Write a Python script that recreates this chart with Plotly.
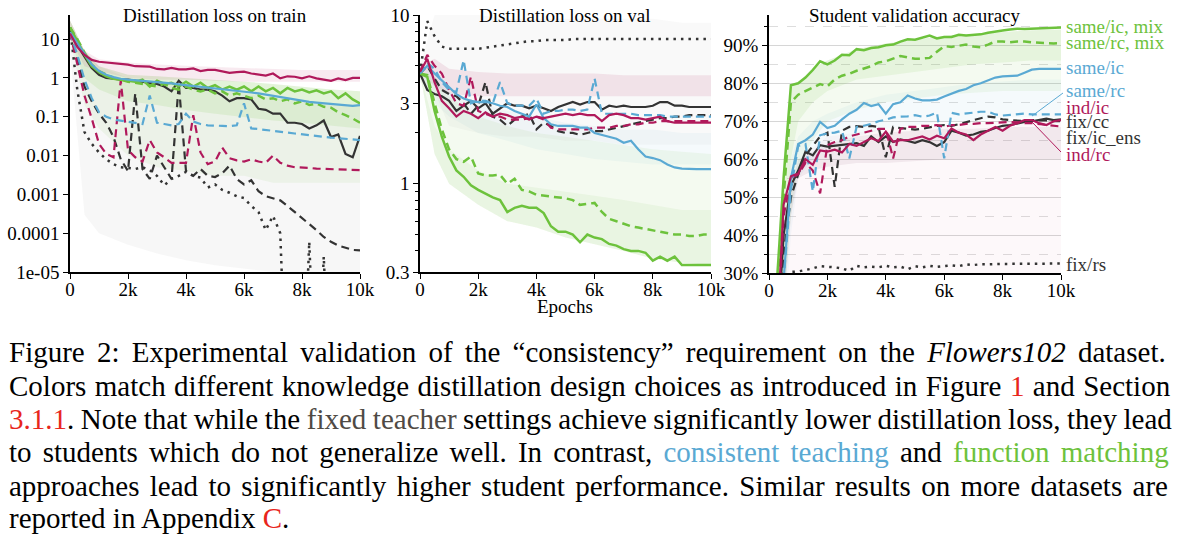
import plotly.graph_objects as go

W, H = 1181, 539

# ---------------- data ----------------
EPOCHS = [i * 250 for i in range(41)]
X_TICKS = [0, 2000, 4000, 6000, 8000, 10000]
X_TICKTEXT = ["0", "2k", "4k", "6k", "8k", "10k"]

# Panel 1: distillation loss on train
TRAIN_SAME_IC_MIX = [20, 9, 4, 2, 1.4, 1.1, 0.95, 0.9, 0.85, 0.8, 0.9, 0.6, 0.85, 0.7, 0.75, 0.6, 0.8, 0.6, 0.75, 0.55,
                     0.65, 0.5, 0.6, 0.5, 0.6, 0.45, 0.6, 0.45, 0.55, 0.4, 0.55, 0.45, 0.5, 0.42, 0.48, 0.4, 0.45, 0.3, 0.4, 0.28, 0.22]
TRAIN_SAME_RC_MIX = [20, 10, 4.5, 2.2, 1.5, 1.2, 1.0, 0.9, 0.8, 0.75, 0.7, 0.65, 0.6, 0.7, 0.55, 0.5, 0.6, 0.5, 0.45, 0.5,
                     0.4, 0.45, 0.35, 0.4, 0.35, 0.3, 0.35, 0.28, 0.3, 0.25, 0.28, 0.22, 0.25, 0.2, 0.22, 0.18, 0.17, 0.13, 0.11, 0.09, 0.07]
TRAIN_SAME_IC = [15, 8, 4, 2.2, 1.5, 1.2, 1.05, 0.95, 0.9, 0.87, 0.85, 0.82, 0.78, 0.75, 0.72, 0.68, 0.65, 0.62, 0.6, 0.57,
                 0.55, 0.52, 0.5, 0.47, 0.44, 0.42, 0.4, 0.37, 0.34, 0.32, 0.3, 0.27, 0.25, 0.24, 0.23, 0.22, 0.22, 0.21, 0.2, 0.19, 0.2]
TRAIN_SAME_RC = [15, 4, 0.9, 0.3, 0.13, 0.1, 0.085, 0.08, 0.075, 0.07, 0.065, 0.35, 0.07, 0.065, 0.06, 0.065, 0.12, 0.075, 0.065, 0.06,
                 0.06, 0.058, 0.057, 0.06, 0.22, 0.05, 0.048, 0.046, 0.043, 0.041, 0.039, 0.037, 0.035, 0.034, 0.032, 0.03, 0.029, 0.028, 0.027, 0.026, 0.025]
TRAIN_IND_IC = [14, 6.3, 3.9, 2.9, 2.6, 2.5, 2.45, 2.35, 2.2, 2.0, 1.95, 1.95, 1.7, 1.65, 1.8, 1.65, 1.65, 1.75, 1.5, 1.6,
                1.6, 1.45, 1.35, 1.4, 1.45, 1.3, 1.25, 1.15, 1.3, 0.97, 1.1, 1.07, 0.97, 1.1, 0.97, 0.9, 0.84, 0.97, 0.88, 1.0, 1.0]
TRAIN_IND_RC = [15, 2.5, 0.35, 0.09, 0.02, 0.011, 0.009, 0.85, 0.014, 0.009, 0.007, 0.025, 0.012, 0.009, 0.0065, 0.0065, 0.0065, 0.11, 0.012, 0.006,
                0.007, 0.016, 0.0085, 0.0075, 0.007, 0.008, 0.007, 0.0065, 0.01, 0.0065, 0.0055, 0.005, 0.005, 0.0048, 0.0046, 0.0045, 0.0046, 0.0044, 0.0043, 0.0042, 0.0042]
TRAIN_FIX_CC = [18, 7, 3.5, 1.8, 1.2, 1.0, 0.95, 0.9, 0.9, 0.85, 0.8, 0.75, 0.7, 0.6, 0.45, 0.85, 0.55, 0.55, 0.5, 0.5,
                0.45, 0.35, 0.25, 0.3, 0.3, 0.28, 0.16, 0.15, 0.12, 0.12, 0.07, 0.07, 0.065, 0.05, 0.06, 0.08, 0.03, 0.035, 0.011, 0.009, 0.032]
TRAIN_FIX_IC_ENS = [15, 3, 0.6, 0.25, 0.12, 0.07, 0.03, 0.008, 0.004, 0.4, 0.0045, 0.0025, 0.01, 0.005, 0.0025, 0.7, 0.004, 0.003, 0.0045, 0.003,
                    0.0028, 0.0035, 0.0055, 0.0025, 0.0018, 0.0023, 0.0012, 0.0009, 0.0008, 0.0007, 0.0005, 0.00035, 0.00025, 0.00017, 0.00012, 8e-5, 6e-5, 4.8e-5, 4.2e-5, 3.7e-5, 3.6e-5]
TRAIN_FIX_RS = [20, 0.5, 0.04, 0.02, 0.012, 0.008, 0.006, 0.005, 0.0048, 0.0045, 0.005, 0.0042, 0.003, 0.0017, 0.0025, 0.003, 0.0038, 0.003, 0.0027, 0.0015,
                0.0018, 0.0013, 0.0011, 0.0009, 0.0008, 0.0005, 0.00035, 0.00012, 0.00028, 0.0001, 1e-9, 1e-9, 1e-9, 6e-5, 1e-9, 2.5e-5, 1e-9, 1e-9, 1e-9, 1e-9, 1e-9]

# Panel 2: distillation loss on val
VAL_SAME_IC_MIX = [4.5, 4.3, 2.7, 1.9, 1.45, 1.2, 1.1, 0.98, 0.92, 0.87, 0.83, 0.8, 0.68, 0.72, 0.74, 0.72, 0.72, 0.67, 0.56, 0.52,
                   0.52, 0.5, 0.45, 0.5, 0.48, 0.47, 0.44, 0.43, 0.41, 0.4, 0.4, 0.39, 0.35, 0.37, 0.35, 0.37, 0.33, 0.33, 0.33, 0.33, 0.33]
VAL_SAME_RC_MIX = [4.5, 4.4, 3.0, 2.1, 1.6, 1.4, 1.35, 1.45, 1.15, 1.12, 1.12, 1.13, 1.0, 1.07, 0.92, 0.9, 0.86, 0.85, 0.84, 0.83,
                   0.82, 0.8, 0.75, 0.76, 0.77, 0.68, 0.62, 0.6, 0.58, 0.56, 0.55, 0.54, 0.53, 0.52, 0.51, 0.5, 0.5, 0.49, 0.49, 0.5, 0.5]
VAL_SAME_IC = [4.5, 5.0, 4.5, 4.1, 3.7, 3.4, 3.2, 3.1, 3.05, 3.05, 3.0, 2.9, 2.85, 2.7, 2.6, 2.5, 2.95, 2.45, 2.25, 2.2,
               2.2, 2.2, 2.15, 2.15, 2.0, 1.95, 1.9, 1.85, 1.75, 1.8, 1.6, 1.45, 1.42, 1.38, 1.3, 1.25, 1.23, 1.22, 1.22, 1.22, 1.22]
VAL_SAME_RC = [4.5, 5.2, 4.8, 4.0, 3.6, 3.5, 5.4, 3.0, 3.1, 3.1, 3.0, 4.0, 3.0, 2.9, 2.9, 2.9, 3.2, 2.6, 2.7, 2.7,
               2.75, 2.75, 2.7, 2.75, 4.2, 2.6, 2.6, 2.6, 2.6, 2.6, 2.55, 2.55, 2.55, 2.55, 2.5, 2.5, 2.5, 2.5, 2.5, 2.5, 2.5]
VAL_IND_IC = [4.6, 5.5, 4.0, 3.1, 2.8, 2.5, 2.7, 2.6, 2.45, 2.65, 2.5, 2.6, 2.55, 2.45, 2.5, 2.4, 2.5, 2.45, 2.5, 2.55,
              2.6, 2.55, 2.6, 2.55, 2.55, 2.35, 2.55, 2.6, 2.55, 2.45, 2.45, 2.4, 2.45, 2.5, 2.35, 2.3, 2.3, 2.3, 2.3, 2.3, 2.3]
VAL_IND_RC = [4.6, 5.8, 5.0, 4.5, 3.6, 3.0, 2.9, 4.3, 2.7, 2.6, 2.5, 2.5, 2.4, 2.4, 2.4, 2.45, 2.5, 2.4, 2.15, 2.1,
              2.1, 2.1, 2.1, 2.1, 2.15, 2.15, 2.15, 2.2, 2.2, 2.25, 2.25, 2.3, 2.3, 2.35, 2.35, 2.35, 2.35, 2.35, 2.35, 2.35, 2.35]
VAL_FIX_CC = [4.5, 3.6, 3.4, 3.3, 3.1, 2.7, 2.9, 3.1, 2.8, 3.0, 2.6, 2.8, 3.0, 2.9, 2.9, 2.8, 2.9, 2.8, 2.7, 2.85,
              2.95, 3.05, 2.95, 3.05, 3.05, 2.75, 2.9, 2.85, 2.9, 2.85, 2.85, 2.85, 2.9, 3.05, 3.05, 2.9, 2.9, 2.85, 2.85, 2.85, 2.85]
VAL_FIX_IC_ENS = [4.5, 5.0, 4.2, 3.6, 3.4, 3.3, 3.0, 2.6, 2.9, 4.0, 2.5, 2.4, 2.2, 2.4, 2.5, 2.6, 2.1, 2.3, 2.2, 2.05,
                  2.0, 2.0, 1.95, 2.0, 2.05, 2.05, 2.1, 2.15, 2.2, 2.25, 2.3, 2.35, 2.4, 2.45, 2.45, 2.5, 2.5, 2.55, 2.55, 2.55, 2.55]
VAL_FIX_RS = [4.5, 9.2, 7.5, 6.5, 6.3, 6.3, 6.3, 6.3, 6.3, 6.4, 6.5, 6.6, 6.7, 6.8, 6.9, 7.0, 7.0, 7.1, 7.1, 7.1,
              7.1, 7.2, 7.2, 7.2, 7.2, 7.2, 7.2, 7.2, 7.2, 7.2, 7.2, 7.2, 7.2, 7.2, 7.2, 7.2, 7.2, 7.2, 7.2, 7.2, 7.2]

# Panel 3: student validation accuracy (%)
ACC_SAME_IC_MIX = [1, 25, 55, 79.5, 80, 81.5, 83.5, 85.8, 85, 86, 87.5, 87.4, 89, 88.7, 89.3, 89.5, 90, 90.2, 91, 91.6,
                   91.5, 92, 92.6, 91.8, 92.2, 92.2, 92.8, 92.6, 92.7, 92.9, 93.3, 93.5, 93.9, 94.2, 94.4, 94.3, 94.4, 94.5, 94.6, 94.6, 94.7]
ACC_SAME_RC_MIX = [1, 22, 50, 75, 77, 78, 79, 79.8, 79.2, 81, 82, 82.5, 83.3, 84, 84.5, 85.5, 85.8, 86.5, 87.2, 86.8,
                   86.5, 86.5, 86.7, 88.3, 89.8, 89.6, 89.9, 90.2, 89.7, 89.5, 90.2, 91.0, 91.0, 90.8, 91.0, 91.0, 90.8, 90.7, 90.6, 90.5, 90.6]
ACC_SAME_IC = [1, 5, 28, 55, 64, 65, 66.5, 69.8, 68.2, 68.8, 70.5, 72, 73, 74.8, 74, 74.5, 72, 74.5, 75, 76.8,
               76, 75.5, 75.5, 75.7, 76.5, 77.3, 78, 78.5, 79.5, 80, 80.8, 81.5, 81.8, 82, 82, 82.8, 83.6, 83.8, 83.8, 83.8, 83.8]
ACC_SAME_RC = [1, 5, 28, 52, 63.5, 64, 51.5, 66.3, 66.8, 67, 67.5, 60.2, 68.5, 68.8, 69.3, 70, 70.4, 71, 71.2, 71.3,
               71.6, 71.2, 71.5, 72.3, 60.2, 72.2, 71.8, 72, 72.3, 72.5, 72.5, 71.8, 71.5, 71.7, 71.9, 72, 71.8, 71.8, 71.7, 71.8, 71.8]
ACC_IND_IC = [1, 10, 48, 55.5, 56.2, 60, 58.5, 62.3, 62, 62.5, 61.8, 64, 63.5, 64.5, 65.5, 64.8, 67.3, 64.6, 65, 65,
              65.5, 66, 65.2, 66.2, 65.5, 68.1, 67, 66.5, 65, 66.5, 67.5, 68.5, 67.5, 68.8, 69.5, 70.3, 70.3, 69.5, 69, 70, 70.3]
ACC_IND_RC = [1, 8, 45, 55, 56, 59, 57, 51, 63.7, 64.5, 65, 66, 66.5, 67, 67.5, 68, 68, 60.2, 68, 68.5,
              68.5, 68.8, 68.8, 69, 68.5, 69, 69, 69.3, 69.3, 69.5, 69.5, 69.6, 69.7, 69.8, 69.7, 69.5, 69.5, 69.3, 69, 68.8, 68.6]
ACC_FIX_CC = [1, 8, 40, 53, 57, 62, 61, 63.7, 63.3, 63.5, 63.7, 64, 64.2, 63.5, 66, 64.5, 66, 64.5, 65.2, 64.8,
              64.3, 65, 64.5, 63.5, 64.5, 67.5, 67, 66.2, 66.5, 67.2, 67.5, 68.2, 68.8, 69, 69.5, 69.8, 70, 70.3, 70.7, 70.3, 70.5]
ACC_FIX_IC_ENS = [1, 6, 35, 50, 56, 61, 63.5, 66, 67, 52.7, 67.5, 68.5, 68.7, 68.5, 68.8, 68.5, 60.5, 68.5, 68.2, 68,
                  67.8, 68, 68.5, 68.8, 69, 68.8, 69.2, 69.8, 70.2, 70.8, 71.2, 71, 70.5, 70.3, 70.2, 70, 70.3, 70.3, 70.2, 70, 70]
ACC_FIX_RS = [1, 1, 1, 30.3, 30.4, 30.8, 31.2, 31.8, 31.7, 31.5, 31.2, 30.6, 31.9, 31.5, 31.7, 31.5, 31.9, 31.5, 31.7, 31.0,
              31.8, 31.5, 31.9, 31.6, 31.8, 32.0, 31.8, 32.3, 32.1, 32.3, 32.3, 32.4, 32.4, 32.4, 32.4, 32.5, 32.5, 32.5, 32.5, 32.5, 32.5]

# Envelopes of the faint individual runs (background haze)
BAND_EPOCHS = [0, 500, 1000, 2000, 3000, 4000, 5000, 6000, 7000, 8000, 9000, 10000]
TRAIN_FIX_LO = [5, 3e-4, 1e-4, 5e-5, 3e-5, 2e-5, 1.5e-5, 1.2e-5, 1e-5, 1e-5, 1e-5, 1e-5]
TRAIN_FIX_HI = [30, 5, 2, 1, 0.8, 0.6, 0.5, 0.4, 0.3, 0.25, 0.2, 0.2]
TRAIN_MIX_LO = [10, 0.2, 0.05, 0.01, 0.005, 0.004, 0.003, 0.003, 0.002, 0.002, 0.002, 0.002]
TRAIN_MIX_HI = [30, 5, 2, 1.2, 1.1, 1.0, 0.9, 0.8, 0.7, 0.6, 0.5, 0.45]
TRAIN_MIXD_LO = [10, 1.0, 0.5, 0.25, 0.2, 0.15, 0.12, 0.1, 0.08, 0.07, 0.06, 0.05]
TRAIN_IND_LO = [10, 2, 1.5, 1.0, 0.9, 0.9, 0.85, 0.8, 0.8, 0.8, 0.8, 0.8]
TRAIN_IND_HI = [30, 5, 3, 2.5, 2.2, 2.0, 1.9, 1.8, 1.7, 1.6, 1.6, 1.6]

VAL_FIX_LO = [4, 3.5, 2.2, 2.0, 1.9, 1.9, 1.8, 1.8, 1.7, 1.7, 1.7, 1.7]
VAL_FIX_HI = [5, 10, 10, 10, 9.5, 9.5, 9.5, 9.5, 9.5, 9.5, 9, 9]
VAL_INDD_LO = [4.5, 3.8, 3.4, 3.3, 3.3, 3.3, 3.3, 3.3, 3.3, 3.3, 3.3, 3.3]
VAL_INDD_HI = [5, 5.5, 4.8, 4.6, 4.5, 4.5, 4.5, 4.5, 4.4, 4.4, 4.4, 4.4]
VAL_CT_LO = [4.5, 3, 2.5, 2, 1.8, 1.6, 1.5, 1.4, 1.35, 1.3, 1.3, 1.3]
VAL_CT_HI = [5, 4.5, 3.5, 3, 2.7, 2.5, 2.3, 2.2, 2.1, 2.1, 2.0, 2.0]
VAL_MIX_LO = [4.5, 1.5, 1.0, 0.75, 0.6, 0.55, 0.48, 0.44, 0.4, 0.36, 0.34, 0.33]
VAL_MIX_HI = [4.6, 4.2, 3.3, 2.5, 2.2, 2.0, 1.9, 1.8, 1.7, 1.6, 1.55, 1.5]
VAL_MIXD_HI = [4.5, 2.2, 1.6, 1.2, 1.0, 0.95, 0.9, 0.85, 0.8, 0.75, 0.7, 0.7]

ACC_BAND_EPOCHS = [0, 250, 500, 750, 1000, 1500, 2000, 3000, 4000, 5000, 6000, 7000, 8000, 9000, 10000]
ACC_MIX_LO = [1, 1, 20, 45, 58, 65, 70, 73, 75, 76, 77, 77.5, 78, 78, 78]
ACC_MIX_HI = [1, 30, 60, 79, 80, 84, 86, 89, 90.5, 91.5, 92.5, 93, 93.5, 94, 94.2]
ACC_MIXD_LO = [1, 1, 30, 60, 70, 75, 78, 81, 82, 83, 84, 85, 85.5, 86, 86]
ACC_CT_LO = [1, 1, 10, 40, 55, 60, 63, 66, 68, 69, 70, 70, 71, 71, 71]
ACC_CT_HI = [1, 10, 40, 60, 66, 70, 72, 75, 77, 78, 79, 80, 80.5, 81, 81]
ACC_FIX_LO = [1, 1, 1, 1, 1, 20, 30, 30, 30, 30, 30, 30, 30, 30, 30]
ACC_FIX_HI = [1, 5, 30, 52, 58, 63, 66, 67, 68, 68.5, 69, 69.5, 70, 70, 70]
ACC_INDD_LO = [1, 1, 20, 45, 55, 57, 58, 59, 59, 59.5, 60, 60, 60, 60, 60]
ACC_INDD_HI = [1, 5, 30, 52, 60, 62, 64, 66, 67, 67.5, 68, 68, 68.5, 68.5, 68.5]

Y1_TICKS = [1e-5, 1e-4, 1e-3, 1e-2, 0.1, 1, 10]
Y1_TICKTEXT = ["1e-05", "0.0001", "0.001", "0.01", "0.1", "1", "10"]
Y2_TICKS = [0.3, 1, 3, 10]
Y2_MINOR = [0.4, 0.5, 0.6, 0.7, 0.8, 0.9, 2, 4, 5, 6, 7, 8, 9]
Y3_TICKS = [30, 40, 50, 60, 70, 80, 90]
Y3_TICKTEXT = ["30%", "40%", "50%", "60%", "70%", "80%", "90%"]
Y3_MINOR = [35, 45, 55, 65, 75, 85, 95]

LABELS = ["same/ic, mix", "same/rc, mix", "same/ic", "same/rc", "ind/ic", "fix/cc", "fix/ic_ens", "ind/rc", "fix/rs"]

# ---------------- style ----------------
GREEN = "#6dc23c"
BLUE = "#5aa9d3"
CRIMSON = "#b0195b"
DARK = "#333333"
FONT = "Liberation Serif"
DASH = "8px,5px"
DOT = "2.5px,5px"


def px_x(p):
    return p / W


def px_y(p):
    return 1 - p / H


fig = go.Figure()


def band(xs, lo, hi, color, op, xa, ya):
    fig.add_trace(go.Scatter(x=xs, y=lo, mode="lines", line=dict(width=0), hoverinfo="skip",
                             xaxis=xa, yaxis=ya, showlegend=False))
    fig.add_trace(go.Scatter(x=xs, y=hi, mode="lines", line=dict(width=0), fill="tonexty",
                             fillcolor=f"rgba({color},{op})", hoverinfo="skip",
                             xaxis=xa, yaxis=ya, showlegend=False))


def line(ys, color, dash, width, xa, ya):
    fig.add_trace(go.Scatter(x=EPOCHS, y=ys, mode="lines",
                             line=dict(color=color, width=width, dash=dash),
                             xaxis=xa, yaxis=ya, showlegend=False))


G_RGB, B_RGB, C_RGB, K_RGB, M_RGB = "109,194,60", "90,169,211", "176,25,91", "90,90,90", "130,80,110"

# panel 1 bands
band(BAND_EPOCHS, TRAIN_FIX_LO, TRAIN_FIX_HI, K_RGB, 0.05, "x", "y")
band(BAND_EPOCHS, TRAIN_MIX_LO, TRAIN_MIX_HI, G_RGB, 0.08, "x", "y")
band(BAND_EPOCHS, TRAIN_MIXD_LO, TRAIN_MIX_HI, G_RGB, 0.12, "x", "y")
band(BAND_EPOCHS, TRAIN_IND_LO, TRAIN_IND_HI, C_RGB, 0.09, "x", "y")
# panel 2 bands
band(BAND_EPOCHS, VAL_FIX_LO, VAL_FIX_HI, K_RGB, 0.04, "x2", "y2")
band(BAND_EPOCHS, VAL_INDD_LO, VAL_INDD_HI, C_RGB, 0.10, "x2", "y2")
band(BAND_EPOCHS, VAL_CT_LO, VAL_CT_HI, B_RGB, 0.06, "x2", "y2")
band(BAND_EPOCHS, VAL_MIX_LO, VAL_MIX_HI, G_RGB, 0.08, "x2", "y2")
band(BAND_EPOCHS, VAL_MIX_LO, VAL_MIXD_HI, G_RGB, 0.08, "x2", "y2")
# panel 3 bands
band(ACC_BAND_EPOCHS, ACC_FIX_LO, ACC_FIX_HI, C_RGB, 0.03, "x3", "y3")
band(ACC_BAND_EPOCHS, ACC_INDD_LO, ACC_INDD_HI, M_RGB, 0.09, "x3", "y3")
band(ACC_BAND_EPOCHS, ACC_CT_LO, ACC_CT_HI, B_RGB, 0.06, "x3", "y3")
band(ACC_BAND_EPOCHS, ACC_MIX_LO, ACC_MIX_HI, G_RGB, 0.08, "x3", "y3")
band(ACC_BAND_EPOCHS, ACC_MIXD_LO, ACC_MIX_HI, G_RGB, 0.10, "x3", "y3")

panels = [
    ("x", "y", [TRAIN_FIX_RS, TRAIN_FIX_IC_ENS, TRAIN_FIX_CC, TRAIN_IND_RC, TRAIN_SAME_RC, TRAIN_SAME_RC_MIX,
                TRAIN_SAME_IC_MIX, TRAIN_SAME_IC, TRAIN_IND_IC]),
    ("x2", "y2", [VAL_FIX_RS, VAL_FIX_IC_ENS, VAL_FIX_CC, VAL_IND_RC, VAL_SAME_RC, VAL_SAME_RC_MIX,
                  VAL_SAME_IC_MIX, VAL_SAME_IC, VAL_IND_IC]),
    ("x3", "y3", [ACC_FIX_RS, ACC_FIX_IC_ENS, ACC_FIX_CC, ACC_IND_RC, ACC_SAME_RC, ACC_SAME_RC_MIX,
                  ACC_SAME_IC_MIX, ACC_SAME_IC, ACC_IND_IC]),
]
styles = [(DARK, DOT, 2.5), (DARK, DASH, 2.2), (DARK, "solid", 2.2), (CRIMSON, DASH, 2.2), (BLUE, DASH, 2.2),
          (GREEN, DASH, 2.5), (GREEN, "solid", 2.5), (BLUE, "solid", 2.2), (CRIMSON, "solid", 2.2)]
for xa, ya, series in panels:
    for ys, (c, d, w) in zip(series, styles):
        line(ys, c, d, w, xa, ya)

tickfont = dict(family=FONT, size=19, color="black")
axis_common = dict(showline=True, linecolor="black", linewidth=1.5, ticks="outside", ticklen=5,
                   tickwidth=1.2, tickcolor="black", tickfont=tickfont, zeroline=False, automargin=False)


def xaxis(d0, d1, anchor):
    return dict(domain=[px_x(d0), px_x(d1)], range=[0, 10000], tickmode="array", tickvals=X_TICKS,
                ticktext=X_TICKTEXT, anchor=anchor, showgrid=False, ticklabelstandoff=-6, **axis_common)


fig.update_layout(
    template="none",
    autosize=False,
    width=W, height=H, margin=dict(l=0, r=0, t=0, b=0, autoexpand=False),
    paper_bgcolor="white", plot_bgcolor="white",
    showlegend=False,
    xaxis=xaxis(70, 360, "y"),
    xaxis2=xaxis(420, 711, "y2"),
    xaxis3=xaxis(769, 1061, "y3"),
    yaxis=dict(domain=[px_y(272), px_y(15)], type="log", range=[-5, 1.62], tickmode="array",
               tickvals=Y1_TICKS, ticktext=Y1_TICKTEXT, anchor="x", showgrid=False, **axis_common),
    yaxis2=dict(domain=[px_y(272), px_y(15)], type="log", range=[-0.5229, 1.0], tickmode="array",
                tickvals=Y2_TICKS, ticktext=[str(v) for v in Y2_TICKS], anchor="x2", showgrid=False,
                minor=dict(tickmode="array", tickvals=Y2_MINOR, ticks="outside", ticklen=3,
                           tickcolor="black", showgrid=False),
                **axis_common),
    yaxis3=dict(domain=[px_y(273), px_y(15)], range=[30, 98], tickmode="array",
                tickvals=Y3_TICKS, ticktext=Y3_TICKTEXT, anchor="x3",
                showgrid=True, gridcolor="#d6d6d6", gridwidth=1,
                minor=dict(tickmode="array", tickvals=Y3_MINOR, ticks="outside",
                           ticklen=3, tickcolor="black", showgrid=True, gridcolor="#dddddd", griddash="dash"),
                **axis_common),
)

ann = []
titlefont = dict(family=FONT, size=19, color="black")
for txt, cx in [("Distillation loss on train", 215), ("Distillation loss on val", 565),
                ("Student validation accuracy", 915)]:
    ann.append(dict(text=txt, x=px_x(cx), y=px_y(15), xref="paper", yref="paper", showarrow=False,
                    xanchor="center", yanchor="middle", font=titlefont))
ann.append(dict(text="Epochs", x=px_x(565), y=px_y(306), xref="paper", yref="paper", showarrow=False,
                xanchor="center", yanchor="middle", font=titlefont))

label_colors = [GREEN, GREEN, BLUE, BLUE, CRIMSON, DARK, DARK, CRIMSON, DARK]
label_y = [27, 42, 68, 91, 107, 121, 137, 154, 264]
for t, c, yy in zip(LABELS, label_colors, label_y):
    ann.append(dict(text=t, x=px_x(1064), y=px_y(yy), xref="paper", yref="paper", showarrow=False,
                    xanchor="left", yanchor="middle", font=dict(family=FONT, size=19, color=c)))

RED = "#e8261c"
caption = [
    "Figure 2: Experimental validation of the \u201cconsistency\u201d requirement on the <i>Flowers102</i> dataset.",
    f"Colors match different knowledge distillation design choices as introduced in Figure <span style='color:{RED}'>1</span> and Section",
    f"<span style='color:{RED}'>3.1.1</span>. Note that while the <span style='color:#4f4a45'>fixed teacher</span> settings achieve significantly lower distillation loss, they lead",
    f"to students which do not generalize well. In contrast, <span style='color:{BLUE}'>consistent teaching</span> and <span style='color:{GREEN}'>function matching</span>",
    "approaches lead to significantly higher student performance. Similar results on more datasets are",
    f"reported in Appendix <span style='color:{RED}'>C</span>.",
]
word_space = [5.0, 1.2, -0.7, 3.9, 3.1, 0]
centers = [352, 386, 419, 452, 486, 518]
for t, ws, cy in zip(caption, word_space, centers):
    ann.append(dict(text=f"<span style='word-spacing:{ws}px'>{t}</span>", x=px_x(7), y=px_y(cy),
                    xref="paper", yref="paper", showarrow=False,
                    xanchor="left", yanchor="middle", font=dict(family=FONT, size=29, color="black")))

fig.update_layout(annotations=ann)

fig.update_layout(shapes=[
    dict(type="line", xref="paper", yref="paper", x0=px_x(1032), y0=px_y(116), x1=px_x(1063), y1=px_y(93),
         line=dict(color=BLUE, width=1)),
    dict(type="line", xref="paper", yref="paper", x0=px_x(1032), y0=px_y(122), x1=px_x(1061), y1=px_y(152),
         line=dict(color=CRIMSON, width=1)),
])

fig.write_html("out.html", config={"responsive": False, "displayModeBar": False},
               post_script="document.body.style.margin='0px';document.body.style.overflow='hidden';")
